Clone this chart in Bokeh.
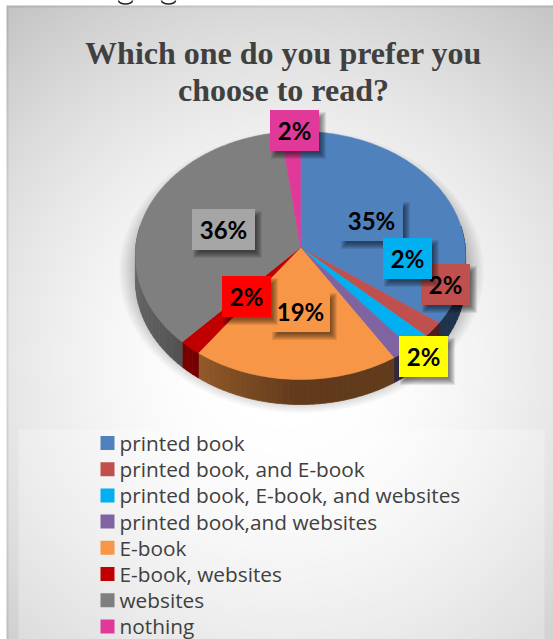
import numpy as np
from bokeh.core.properties import value
from bokeh.embed import file_html
from bokeh.models import Range1d
from bokeh.plotting import figure
from bokeh.resources import INLINE

# Survey answers, in clockwise order from twelve o'clock
categories = [
    "printed book",
    "printed book, and E-book",
    "printed book, E-book, and websites",
    "printed book,and websites",
    "E-book",
    "E-book, websites",
    "websites",
    "nothing",
]
shares = [35, 2, 2, 2, 19, 2, 36, 2]
slice_colors = ["#4f81bd", "#c0504d", "#00b0f0", "#8064a2", "#f79646", "#c00000", "#7f7f7f", "#e0399a"]
label_colors = ["#4f81bd", "#c0504d", "#00b0f0", "#ffff00", "#f79646", "#ff0000", "#a5a5a5", "#e0399a"]
title_lines = ["Which one do you prefer you", "choose to read?"]

W, H = 553, 639


def Y(py):
    return H - np.asarray(py, dtype=float)


# Pie seen in perspective: apex, radii, foreshortening and wall height
APEX_X, APEX_Y = 300.0, 247.0
RX, RY, PERSP, DEPTH = 164.7, 123.5, 0.0645, 25.0


def rim(theta_deg):
    t = np.radians(theta_deg)
    u, v = np.sin(t), np.cos(t)
    w = 1 + PERSP * v
    return APEX_X + RX * u / w, APEX_Y - RY * v / w


p = figure(width=W, height=H, output_backend="svg", toolbar_location=None,
           x_range=Range1d(0, W), y_range=Range1d(0, H), min_border=0)
p.axis.visible = False
p.grid.visible = False
p.outline_line_color = None
p.background_fill_color = "white"
p.border_fill_color = "white"

# Chart area: soft radial backdrop with a thin darker edge on the left and top.
# Image rows run bottom-up, so the grid's y grows with the row index.
X0, Y0 = 6, 5
xs, ys = np.meshgrid(np.arange(X0, W) + 0.5, np.arange(H - Y0) + 0.5)
dist = np.hypot(xs - 285, ys - (H - 360)) / 460
gray = 255 - 62 * (np.clip(dist - 0.15, 0, None) / 0.85) ** 1.5
gray = np.where((xs < X0 + 2) | (ys > H - Y0 - 2), gray - 18, gray)
rgba = np.zeros(gray.shape + (4,), dtype=np.uint8)
rgba[..., 0] = rgba[..., 1] = rgba[..., 2] = np.clip(gray, 0, 255).astype(np.uint8)
rgba[..., 3] = 255
p.image_rgba(image=[rgba.view(np.uint32).reshape(gray.shape)], x=X0, y=0, dw=W - X0, dh=H - Y0)

# Bottoms of the letters from the line of text above the chart
p.ellipse(x=[125, 168], y=[Y(0), Y(0)], width=[14, 14], height=[7, 7],
          fill_color=None, line_color="#222222", line_width=1.5)

# Legend panel
p.quad(left=18, right=544, bottom=0, top=Y(429), fill_color="white", fill_alpha=0.25, line_color=None)

# Title
for line, py in zip(title_lines, [52, 89]):
    p.text(x=[283], y=[Y(py)], text=[line], text_font=value("Liberation Serif"), text_font_style="bold",
           text_font_size="32px", text_color="#404040", text_align="center", text_baseline="middle")

# Soft shadow under the pie
for grow in range(14, 0, -1):
    p.ellipse(x=[301], y=[Y(271)], width=[2 * (166 + grow * 1.2)], height=[2 * (128 + grow * 1.0)],
              fill_color="#000000", fill_alpha=0.014, line_color=None)

# Slice boundaries in degrees clockwise from the top
edges = np.concatenate([[0.0], np.cumsum(shares)]) * 3.6

# Side wall, shaded strip by strip along the front of the pie
SHADE_AT = [80, 126, 180, 216, 235, 280]
SHADE = [0.42, 0.40, 0.39, 0.60, 0.72, 0.88]
for start, stop, color in zip(edges[:-1], edges[1:], slice_colors):
    lo, hi = max(start, 80.0), min(stop, 280.0)
    if lo >= hi:
        continue
    base = np.array([int(color[i:i + 2], 16) for i in (1, 3, 5)], dtype=float)
    steps = max(1, int((hi - lo) / 2))
    cuts = np.linspace(lo, hi, steps + 1)
    for a, b in zip(cuts[:-1], cuts[1:]):
        ang = np.linspace(a, b, 4)
        rx_, ry_ = rim(ang)
        f = float(np.interp((a + b) / 2, SHADE_AT, SHADE))
        r, g, bl = (base * f).astype(int)
        shade = f"#{r:02x}{g:02x}{bl:02x}"
        p.patch(np.r_[rx_, rx_[::-1]], Y(np.r_[ry_, ry_[::-1] + DEPTH]),
                fill_color=shade, line_color=shade, line_width=0.8)

# Top face of the pie
for start, stop, color in zip(edges[:-1], edges[1:], slice_colors):
    ang = np.linspace(start, stop, max(4, int(stop - start) + 2))
    rx_, ry_ = rim(ang)
    p.patch(np.r_[APEX_X, rx_], Y(np.r_[APEX_Y, ry_]), fill_color=color, line_color=color, line_width=0.5)

# Percentage tags, each a filled box with a blurred drop shadow to the lower right
BOX_W = {35: 63, 36: 63, 19: 59, 2: 49}
tag_centers = [(371, 220), (445, 284), (407, 258), (423, 356), (300, 311), (246, 296), (223, 229), (294, 130)]
tag_order = [7, 6, 4, 5, 0, 1, 2, 3]
for i in tag_order:
    cx, cy = tag_centers[i]
    half_w, half_h = BOX_W[shares[i]] / 2, 20.5
    for spread in range(3, -4, -1):
        p.quad(left=cx - half_w + 4 - spread, right=cx + half_w + 4 + spread,
               bottom=Y(cy + half_h + 5 + spread), top=Y(cy - half_h + 5 - spread),
               fill_color="#000000", fill_alpha=0.085, line_color=None)
    p.quad(left=cx - half_w, right=cx + half_w, bottom=Y(cy + half_h), top=Y(cy - half_h),
           fill_color=label_colors[i], line_color=None)
    p.text(x=[cx], y=[Y(cy)], text=[f"{shares[i]}%"], text_font=value("Lato"), text_font_style="bold",
           text_font_size="24px", text_color="black", text_align="center", text_baseline="middle")

# Legend entries
for i, (name, color) in enumerate(zip(categories, slice_colors)):
    py = 442.5 + 26.2 * i
    p.quad(left=100, right=114, bottom=Y(py + 7), top=Y(py - 7), fill_color=color, line_color=None)
    p.text(x=[119], y=[Y(py)], text=[name], text_font=value("Open Sans"), text_font_size="20.8px",
           text_color="#404040", text_align="left", text_baseline="middle")

open("out.html", "w").write(file_html(p, INLINE))
